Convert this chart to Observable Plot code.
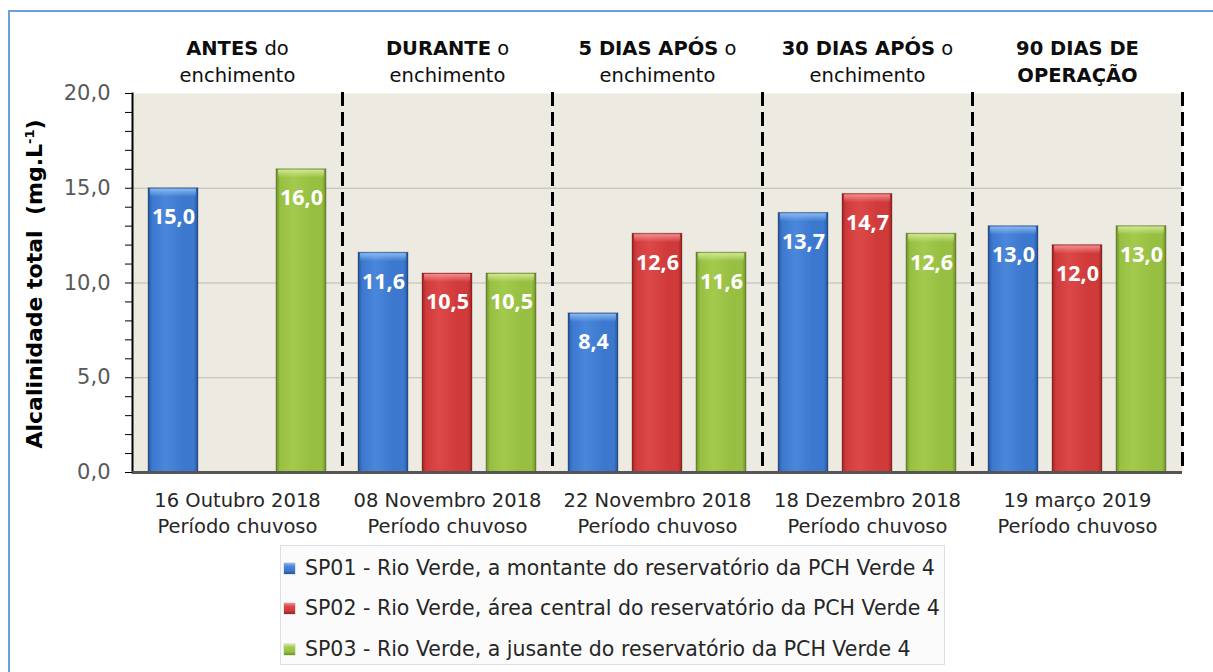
<!DOCTYPE html>
<html>
<head>
<meta charset="utf-8">
<script src="https://cdn.jsdelivr.net/npm/d3@7"></script>
<script src="https://cdn.jsdelivr.net/npm/@observablehq/plot@0.6"></script>
<style>
  html, body { margin: 0; padding: 0; background: #fff; }
  #wrap { position: relative; width: 1213px; height: 672px; overflow: hidden; font-family: "DejaVu Sans", sans-serif; }
  #border { position: absolute; left: 8px; top: 10px; width: 1400px; height: 900px; border-left: 2px solid #6A9FD8; border-top: 2px solid #6A9FD8; }
  #chart { position: absolute; left: 0; top: 0; }
  #legend { position: absolute; left: 280px; top: 545px; width: 663px; height: 118px; border: 1px solid #D8E1EB; background: #FBFBFB; }
  .item { position: absolute; left: 3px; height: 24px; display: flex; align-items: center; font-size: 20.5px; color: #262626; white-space: nowrap; }
  .sw { width: 11px; height: 11px; margin-right: 10px; box-shadow: 0 0 1px rgba(0,0,0,0.5); }
</style>
</head>
<body>
<div id="wrap">
  <div id="border"></div>
  <div id="chart"></div>
  <div id="legend"></div>
</div>
<script>
// ---- data ----
const groupDates = ["16 Outubro 2018", "08 Novembro 2018", "22 Novembro 2018", "18 Dezembro 2018", "19 março 2019"];
const groupSeason = ["Período chuvoso", "Período chuvoso", "Período chuvoso", "Período chuvoso", "Período chuvoso"];
const headerLine1 = ["**ANTES** do", "**DURANTE** o", "**5 DIAS APÓS** o", "**30 DIAS APÓS** o", "**90 DIAS DE**"];
const headerLine2 = ["enchimento", "enchimento", "enchimento", "enchimento", "**OPERAÇÃO**"];
const seriesKeys = ["SP01", "SP02", "SP03"];
const seriesNames = [
  "SP01 - Rio Verde, a montante do reservatório da PCH Verde 4",
  "SP02 - Rio Verde, área central do reservatório da PCH Verde 4",
  "SP03 - Rio Verde, a jusante do reservatório da PCH Verde 4"
];
const sp01 = [15.0, 11.6, 8.4, 13.7, 13.0];
const sp02 = [null, 10.5, 12.6, 14.7, 12.0];
const sp03 = [16.0, 10.5, 11.6, 12.6, 13.0];
const yMajorTicks = [0, 5, 10, 15, 20];
const yMinorTicks = d3.range(0, 21, 1);
const yGridTicks = [5, 10, 15];
const yTitle = "Alcalinidade total\u00A0 (mg.L";
const yTitleSup = "-1";

// ---- styling ----
const gradIds = ["gBlue", "gRed", "gGreen"];
const bevelIds = ["bBlue", "bRed", "bGreen"];
const palettes = [
  {edge: "#23539C", mid: "#3C78CE", light: "#4A86DA", bevel: "#8DBBF2"},
  {edge: "#9E2323", mid: "#D03A3A", light: "#DC4848", bevel: "#F59090"},
  {edge: "#6E922A", mid: "#97BF42", light: "#A3CA4C", bevel: "#D2E994"}
];

const series = [sp01, sp02, sp03];
const rows = [];
groupDates.forEach((g, i) => {
  seriesKeys.forEach((s, j) => {
    const v = series[j][i];
    if (v != null) rows.push({group: g, series: s, value: v});
  });
});
const groups = groupDates.map((g, i) => ({
  group: g,
  bottom: g + "\n" + groupSeason[i],
  header: headerLine1[i].replace(/\*\*/g, "") + "\n" + headerLine2[i].replace(/\*\*/g, "")
}));
const fmt = v => d3.format(".1f")(v).replace(".", ",");

const chart = Plot.plot({
  width: 1213,
  height: 540,
  marginLeft: 132,
  marginRight: 31,
  marginTop: 93,
  marginBottom: 68,
  style: {fontFamily: "DejaVu Sans, sans-serif", background: "transparent", overflow: "visible"},
  fx: {domain: groupDates, padding: 0, axis: null},
  x: {domain: seriesKeys, paddingInner: 0.22, paddingOuter: 0.25, axis: null},
  y: {domain: [0, 20], axis: null},
  color: {type: "ordinal", domain: seriesKeys, range: gradIds.map(id => `url(#${id})`)},
  marks: [
    Plot.frame({fill: "#EDEAE1", stroke: null}),
    Plot.gridY(yGridTicks, {stroke: "#BDBAB2", strokeOpacity: 1, strokeWidth: 1}),
    Plot.barY(rows, {fx: "group", x: "series", y: "value", fill: "series", stroke: "rgba(0,0,0,0.25)", strokeWidth: 1}),
    Plot.barY(rows, {fx: "group", x: "series", y1: "value", y2: "value", insetBottom: -9, insetLeft: 2, insetRight: 2, insetTop: 1,
      fill: d => `url(#${bevelIds[seriesKeys.indexOf(d.series)]})`}),
    Plot.text(rows, {fx: "group", x: "series", y: "value", text: d => fmt(d.value), dy: 29,
      fill: "white", fontWeight: "bold", fontSize: 21.5, fontFamily: "Noto Sans, sans-serif"}),
    Plot.frame({anchor: "right", stroke: "#000", strokeWidth: 3, strokeDasharray: "11,9"}),
    Plot.frame({anchor: "left", facetAnchor: "left", stroke: "#000", strokeWidth: 2}),
    Plot.ruleY([0], {stroke: "#555", strokeWidth: 3}),
    Plot.axisY({ticks: yMinorTicks, tickSize: 7, tickFormat: () => "", stroke: "#000", label: null}),
    Plot.text(yMajorTicks, {y: d => d, text: d => fmt(d), frameAnchor: "left", textAnchor: "end", dx: -22,
      fontSize: 21, fill: "#595959", facetAnchor: "left"}),
    Plot.text(groups, {fx: "group", text: "bottom", frameAnchor: "bottom", lineAnchor: "top", dy: 16,
      fontSize: 19.5, lineHeight: 1.33, fill: "#262626"}),
    Plot.text(groups, {fx: "group", text: "header", frameAnchor: "top", lineAnchor: "bottom", dy: -12,
      fontSize: 19.5, lineHeight: 1.38, fill: "#0D0D0D"})
  ]
});

// gradients
const ns = "http://www.w3.org/2000/svg";
const defs = document.createElementNS(ns, "defs");
palettes.forEach((p, k) => {
  const lg = document.createElementNS(ns, "linearGradient");
  lg.setAttribute("id", gradIds[k]);
  lg.setAttribute("x1", "0"); lg.setAttribute("x2", "1"); lg.setAttribute("y1", "0"); lg.setAttribute("y2", "0");
  [[0, p.edge], [0.08, p.mid], [0.35, p.light], [0.7, p.mid], [0.92, p.mid], [1, p.edge]].forEach(([o, c]) => {
    const st = document.createElementNS(ns, "stop");
    st.setAttribute("offset", o); st.setAttribute("stop-color", c);
    lg.appendChild(st);
  });
  defs.appendChild(lg);
  const bg = document.createElementNS(ns, "linearGradient");
  bg.setAttribute("id", bevelIds[k]);
  bg.setAttribute("x1", "0"); bg.setAttribute("x2", "0"); bg.setAttribute("y1", "0"); bg.setAttribute("y2", "1");
  [[0, p.bevel, 0.95], [1, p.bevel, 0]].forEach(([o, c, a]) => {
    const st = document.createElementNS(ns, "stop");
    st.setAttribute("offset", o); st.setAttribute("stop-color", c); st.setAttribute("stop-opacity", a);
    bg.appendChild(st);
  });
  defs.appendChild(bg);
});
const svg = chart.tagName.toLowerCase() === "svg" ? chart : chart.querySelector("svg");
svg.insertBefore(defs, svg.firstChild);

// ensure tick-label font size
svg.querySelectorAll('g[fill="#595959"]').forEach(g => {
  g.setAttribute("font-size", "21");
  g.querySelectorAll("text").forEach(t => t.setAttribute("font-size", "21"));
});

// mixed bold headers
const mdMap = {};
headerLine1.concat(headerLine2).forEach(m => { mdMap[m.replace(/\*\*/g, "")] = m; });
svg.querySelectorAll("text, tspan").forEach(el => {
  if (el.children.length) return;
  const plain = el.textContent;
  const md = mdMap[plain];
  if (!md) return;
  el.textContent = "";
  md.split("**").forEach((part, idx) => {
    if (!part) return;
    const s = document.createElementNS(ns, "tspan");
    s.textContent = part;
    if (idx % 2 === 1) s.setAttribute("font-weight", "bold");
    el.appendChild(s);
  });
});

// y-axis title
const yt = document.createElementNS(ns, "text");
yt.setAttribute("transform", "translate(42,284) rotate(-90)");
yt.setAttribute("text-anchor", "middle");
yt.setAttribute("font-weight", "bold");
yt.setAttribute("font-size", "22");
yt.setAttribute("fill", "#000");
yt.setAttribute("font-family", "DejaVu Sans, sans-serif");
yt.appendChild(document.createTextNode(yTitle));
const sup = document.createElementNS(ns, "tspan");
sup.setAttribute("font-size", "13");
sup.setAttribute("dy", "-8");
sup.textContent = yTitleSup;
yt.appendChild(sup);
const close = document.createElementNS(ns, "tspan");
close.setAttribute("dy", "8");
close.textContent = ")";
yt.appendChild(close);
svg.appendChild(yt);

document.getElementById("chart").appendChild(chart);

// legend
const legend = document.getElementById("legend");
const rowTops = [10, 50, 91];
seriesNames.forEach((name, k) => {
  const p = palettes[k];
  const it = document.createElement("div");
  it.className = "item";
  it.style.top = rowTops[k] + "px";
  const sw = document.createElement("div");
  sw.className = "sw";
  sw.style.background = `linear-gradient(180deg, ${p.bevel} 0%, ${p.light} 30%, ${p.mid} 70%, ${p.edge} 100%)`;
  const tx = document.createElement("span");
  tx.textContent = name;
  it.appendChild(sw); it.appendChild(tx);
  legend.appendChild(it);
});
</script>
</body>
</html>
